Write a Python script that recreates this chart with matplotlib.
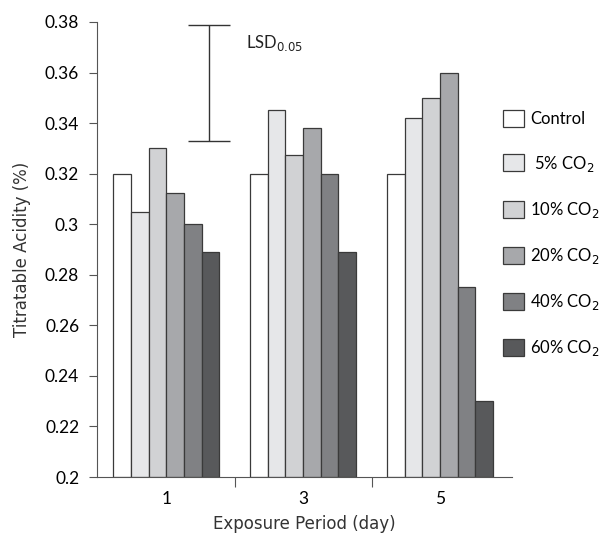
import numpy as np
import matplotlib.pyplot as plt

# data
days = ['1', '3', '5']
treatments = ['Control', ' 5% CO$_2$', '10% CO$_2$', '20% CO$_2$', '40% CO$_2$', '60% CO$_2$']
control = [0.320, 0.320, 0.320]
co2_5 = [0.305, 0.345, 0.342]
co2_10 = [0.330, 0.3275, 0.350]
co2_20 = [0.3125, 0.338, 0.360]
co2_40 = [0.300, 0.320, 0.275]
co2_60 = [0.289, 0.289, 0.230]
lsd_low = 0.333
lsd_high = 0.379

colors = ['#ffffff', '#e6e7e9', '#d1d2d4', '#a7a8ab', '#808184', '#58595b']

plt.rcParams['font.family'] = ['Lato', 'DejaVu Sans']

fig = plt.figure(figsize=(6.08, 5.36), dpi=100)
ax = fig.add_axes([0.160, 0.110, 0.682, 0.849])

series = [control, co2_5, co2_10, co2_20, co2_40, co2_60]
x = np.arange(len(days))
w = 0.129
for i, vals in enumerate(series):
    ax.bar(x + (i - 2.5) * w, np.array(vals) - 0.2, width=w, bottom=0.2,
           color=colors[i], edgecolor='#3a3a3a', linewidth=0.9, label=treatments[i])

# LSD bar
ax.errorbar([0.314], [(lsd_low + lsd_high) / 2], yerr=[(lsd_high - lsd_low) / 2],
            color='#333333', capsize=15, elinewidth=1, capthick=1)
ax.text(0.58, 0.3715, 'LSD$_{0.05}$', fontsize=12, va='center', ha='left', color='#222222')

ax.set_xlim(-0.504, 2.526)
ax.set_ylim(0.2, 0.38)
yt = np.arange(0.2, 0.3801, 0.02)
ax.set_yticks(yt)
ax.set_yticklabels(['0.2', '0.22', '0.24', '0.26', '0.28', '0.3', '0.32', '0.34', '0.36', '0.38'])
ax.set_xticks([0.5, 1.5])
ax.set_xticklabels([])
ax.set_xticks(x, minor=True)
ax.set_xticklabels(days, minor=True)
ax.tick_params(axis='x', which='minor', length=0, pad=10, labelsize=12.5)
ax.tick_params(axis='x', which='major', length=7, direction='out', color='#555555')
ax.tick_params(axis='y', length=6, direction='out', labelsize=12.5, color='#555555', pad=7)

for s in ['top', 'right']:
    ax.spines[s].set_visible(False)
for s in ['left', 'bottom']:
    ax.spines[s].set_color('#555555')

ax.set_ylabel('Titratable Acidity (%)', fontsize=12, labelpad=10, family='DejaVu Sans', color='#333333')
ax.set_xlabel('Exposure Period (day)', fontsize=12, labelpad=6, family='DejaVu Sans', color='#333333')

fig.legend(loc='upper left', bbox_to_anchor=(0.8026, 0.8224), frameon=False,
           fontsize=12, handlelength=1.25, handleheight=1.2, labelspacing=1.57,
           handletextpad=0.4)

fig.savefig('out.png', dpi=100)
